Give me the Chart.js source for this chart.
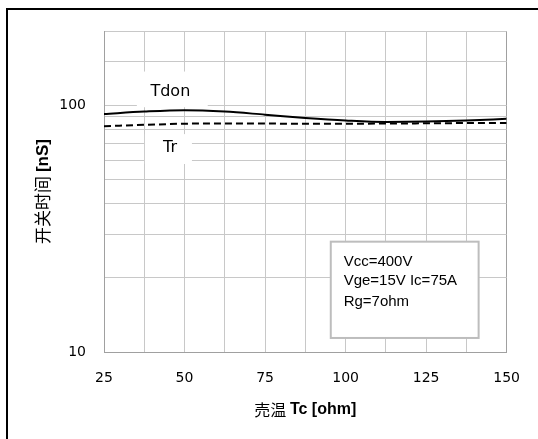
<!DOCTYPE html>
<html>
<head>
<meta charset="utf-8">
<script src="https://cdn.jsdelivr.net/npm/chart.js@4.4.1/dist/chart.umd.min.js"></script>
<style>
  html, body { margin: 0; padding: 0; background: #fff; }
  canvas { display: block; }
</style>
</head>
<body>
<canvas id="chart" width="538" height="439"></canvas>
<script>
// case temperature steps and switching times (nS)
const tempC = [25, 37.5, 50, 62.5, 75, 87.5, 100, 112.5, 125, 137.5, 150];
const tdon = [92.2, 94.3, 95.5, 94.3, 91.6, 88.9, 86.8, 85.6, 85.9, 86.8, 88.1];
const tr = [82.3, 83.3, 84.2, 84.4, 84.3, 84.2, 84.2, 84.3, 84.5, 84.7, 84.8];

const xTickLabels = [25, 50, 75, 100, 125, 150];
const yTickLabels = [10, 100];

const seriesNames = ['Tdon', 'Tr'];
const xTitle = ['売温 ', 'Tc [ohm]'];
const yTitle = ['开关时间 ', '[nS]'];
const noteLines = ['Vcc=400V', 'Vge=15V Ic=75A', 'Rg=7ohm'];

const GRID = '#c8c8c8';
const EDGE = '#a0a0a0';
const CJK = '"Noto Sans CJK SC"';

// draws a title made of a regular CJK part and a bold latin part
function drawMixed(ctx, parts, size, cx, cy) {
    const fonts = [size + 'px ' + CJK, 'bold ' + size + 'px "Liberation Sans"'];
    const widths = parts.map((p, i) => { ctx.font = fonts[i]; return ctx.measureText(p).width; });
    let x = cx - (widths[0] + widths[1]) / 2;
    ctx.textAlign = 'left';
    ctx.textBaseline = 'middle';
    parts.forEach((p, i) => {
        ctx.font = fonts[i];
        ctx.fillText(p, x, cy);
        x += widths[i];
    });
}

const decor = {
    id: 'decor',
    beforeDraw(chart) {
        const ctx = chart.ctx;
        ctx.save();
        ctx.fillStyle = '#fff';
        ctx.fillRect(0, 0, chart.width, chart.height);
        // outer frame, cut off on the right and bottom
        ctx.fillStyle = '#000';
        ctx.fillRect(6, 8, chart.width - 6, 2);
        ctx.fillRect(6, 8, 2, chart.height - 8);
        ctx.restore();
    },
    beforeDatasetsDraw(chart) {
        const { ctx, scales: { x, y } } = chart;
        ctx.save();
        // white patches behind the curve names (they hide the grid)
        ctx.fillStyle = '#fff';
        const patch = (x0, x1, y0, y1) => {
            const l = x.getPixelForValue(x0), r = x.getPixelForValue(x1);
            const t = y.getPixelForValue(y1), b = y.getPixelForValue(y0);
            ctx.fillRect(l, t, r - l, b - t);
        };
        patch(35.2, 57.2, 98.2, 137);
        patch(37.7, 52.3, 57.8, 76.4);
        ctx.fillStyle = '#000';
        ctx.font = '16px "DejaVu Sans"';
        ctx.textAlign = 'center';
        ctx.textBaseline = 'middle';
        ctx.fillText(seriesNames[0], x.getPixelForValue(45.6), y.getPixelForValue(113.8));
        ctx.fillText(seriesNames[1], x.getPixelForValue(45.5), y.getPixelForValue(67.3));
        ctx.restore();
    },
    afterDraw(chart) {
        const { ctx, chartArea: a, scales: { x, y } } = chart;
        ctx.save();
        ctx.fillStyle = '#000';
        drawMixed(ctx, xTitle, 16, (a.left + a.right) / 2, 410);
        ctx.translate(43, (a.top + a.bottom) / 2);
        ctx.rotate(-Math.PI / 2);
        drawMixed(ctx, yTitle, 17, 0, 0);
        ctx.restore();

        // condition note box
        ctx.save();
        const l = x.getPixelForValue(95.4), r = x.getPixelForValue(141.3);
        const t = y.getPixelForValue(28.0), b = y.getPixelForValue(11.4);
        ctx.fillStyle = '#fff';
        ctx.fillRect(l, t, r - l, b - t);
        ctx.strokeStyle = '#bdbdbd';
        ctx.lineWidth = 2;
        ctx.strokeRect(l, t, r - l, b - t);
        ctx.fillStyle = '#000';
        ctx.font = '15px "Liberation Sans"';
        ctx.textAlign = 'left';
        ctx.textBaseline = 'middle';
        const tx = x.getPixelForValue(99.4);
        [23.3, 19.4, 15.95].forEach((v, i) => ctx.fillText(noteLines[i], tx, y.getPixelForValue(v)));
        ctx.restore();
    }
};

Chart.defaults.font.family = '"DejaVu Sans"';
Chart.defaults.color = '#000';

new Chart(document.getElementById('chart'), {
    type: 'line',
    data: {
        datasets: [
            {
                label: seriesNames[0],
                data: tempC.map((t, i) => ({ x: t, y: tdon[i] })),
                borderColor: '#000',
                borderWidth: 2,
                pointRadius: 0,
                tension: 0.4,
                cubicInterpolationMode: 'monotone'
            },
            {
                label: seriesNames[1],
                data: tempC.map((t, i) => ({ x: t, y: tr[i] })),
                borderColor: '#000',
                borderWidth: 2,
                borderDash: [7, 4],
                pointRadius: 0,
                tension: 0.4,
                cubicInterpolationMode: 'monotone'
            }
        ]
    },
    options: {
        responsive: false,
        animation: false,
        layout: { padding: { top: 31, right: 31, left: 0, bottom: 0 } },
        plugins: { legend: { display: false }, tooltip: { enabled: false } },
        scales: {
            x: {
                type: 'linear',
                min: 25,
                max: 150,
                afterFit: (s) => { s.height = 87; },
                border: { display: true, color: EDGE, width: 1 },
                grid: {
                    color: (c) => (c.tick && c.tick.value === 150 ? EDGE : GRID),
                    drawTicks: false
                },
                ticks: {
                    stepSize: 12.5,
                    autoSkip: false,
                    maxRotation: 0,
                    padding: 18,
                    font: { size: 14 },
                    callback: (v) => (xTickLabels.includes(v) ? String(v) : '')
                }
            },
            y: {
                type: 'logarithmic',
                min: 10,
                max: 200,
                afterFit: (s) => { s.width = 104; },
                border: { display: true, color: EDGE, width: 1 },
                grid: { color: GRID, drawTicks: false },
                ticks: {
                    autoSkip: false,
                    padding: 18,
                    font: { size: 14 },
                    callback: (v) => (yTickLabels.includes(v) ? String(v) : '')
                }
            }
        }
    },
    plugins: [decor]
});
</script>
</body>
</html>
